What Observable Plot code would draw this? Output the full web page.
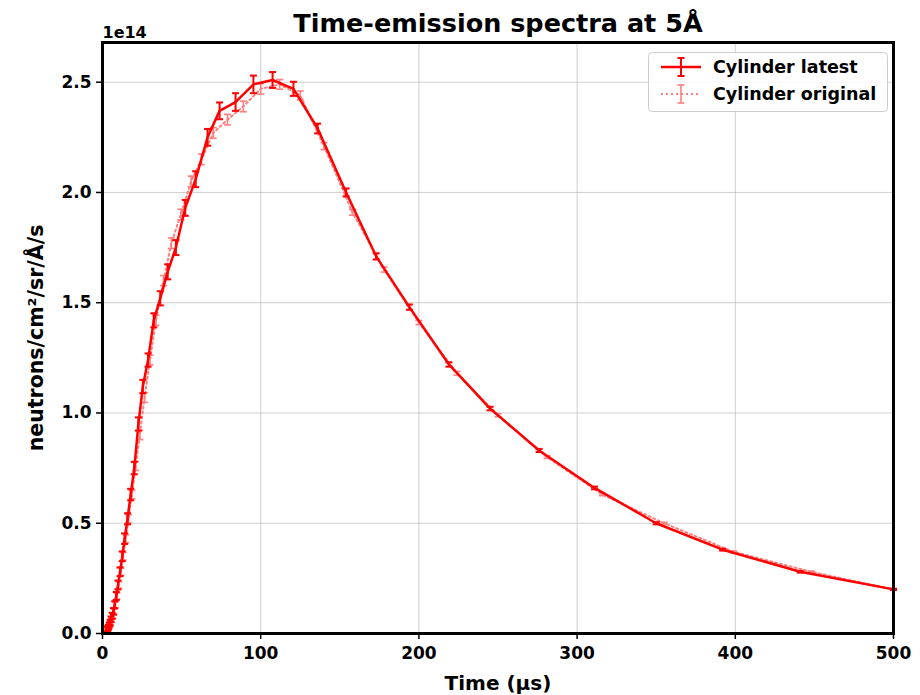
<!DOCTYPE html>
<html><head><meta charset="utf-8">
<script src="https://cdn.jsdelivr.net/npm/d3@7"></script>
<script src="https://cdn.jsdelivr.net/npm/@observablehq/plot@0.6"></script>
<style>
body{margin:0;background:#fff;font-family:"DejaVu Sans",sans-serif;}
#wrap{position:relative;width:920px;height:695px;}
#legend{position:absolute;left:0;top:0;pointer-events:none;}
</style></head><body><div id="wrap"></div>
<script>
// ---- data (values in units of 1e14) ----
const latestTime  = [3.0,3.4,3.8,4.3,4.8,5.4,6.1,6.9,7.7,8.7,9.8,11.1,12.5,14.0,15.8,17.8,20.1,22.7,25.5,28.8,32.4,36.5,41.2,46.4,52.3,58.9,66.4,74.0,84.1,95.4,107.5,120.7,136,154,173,194,219,245,276,311,350,392,441,500];
const latestValue = [0.02,0.025,0.03,0.04,0.05,0.065,0.08,0.10,0.13,0.17,0.22,0.28,0.35,0.43,0.52,0.63,0.75,0.95,1.12,1.24,1.42,1.52,1.64,1.75,1.93,2.06,2.25,2.37,2.41,2.49,2.51,2.47,2.29,2.00,1.71,1.48,1.22,1.02,0.83,0.66,0.50,0.38,0.28,0.20];
const latestErr   = [0.01,0.01,0.01,0.01,0.012,0.012,0.014,0.015,0.016,0.018,0.02,0.02,0.022,0.024,0.025,0.026,0.028,0.03,0.03,0.03,0.032,0.032,0.034,0.034,0.036,0.036,0.038,0.038,0.04,0.04,0.036,0.032,0.022,0.018,0.014,0.012,0.01,0.008,0.007,0.006,0.005,0.004,0.004,0.003];
const originalTime  = [3.1,3.5,4.0,4.5,5.0,5.7,6.4,7.2,8.1,9.1,10.3,11.6,13.0,14.7,16.5,18.6,21.0,23.6,26.6,30.0,33.8,38.6,43.5,49.5,56,62.5,70,79,89,100,112,125,140,158,178,200,224,250,281,316,355,399,448,500];
const originalValue = [0.015,0.02,0.03,0.035,0.045,0.06,0.08,0.10,0.13,0.17,0.22,0.28,0.35,0.43,0.52,0.63,0.76,0.90,1.07,1.24,1.42,1.60,1.77,1.90,2.05,2.15,2.27,2.33,2.39,2.47,2.49,2.44,2.21,1.91,1.65,1.41,1.18,0.99,0.80,0.63,0.50,0.37,0.28,0.20];
const originalErr   = [0.008,0.008,0.008,0.009,0.01,0.01,0.011,0.012,0.013,0.014,0.015,0.016,0.017,0.018,0.019,0.02,0.02,0.021,0.022,0.022,0.023,0.023,0.024,0.024,0.024,0.024,0.024,0.024,0.024,0.024,0.022,0.02,0.016,0.013,0.011,0.009,0.008,0.007,0.006,0.005,0.004,0.004,0.003,0.003];
const xTicks = [0,100,200,300,400,500];
const yTicks = [0,0.5,1.0,1.5,2.0,2.5];
const seriesNames = ["Cylinder latest","Cylinder original"];
const titleText = "Time-emission spectra at 5Å";
const xLabel = "Time (µs)";
const yLabel = "neutrons/cm²/sr/Å/s";
const scaleLabel = "1e14";

// ---- build tables ----
const latest = latestTime.map((t,i)=>({t, v: latestValue[i], e: latestErr[i]}));
const original = originalTime.map((t,i)=>({t, v: originalValue[i], e: originalErr[i]}));

const RED = "#ff0000", PINK = "#ff7f7f";
const cap = {draw(ctx){ ctx.moveTo(-3.5,0); ctx.lineTo(3.5,0); }};

const chart = Plot.plot({
  width: 920, height: 695,
  marginLeft: 102, marginRight: 27, marginTop: 42, marginBottom: 62,
  style: {fontFamily: "'DejaVu Sans', sans-serif", fontSize: "17px", fontWeight: "bold", color: "black", background: "white"},
  x: {domain: [0, 500]},
  y: {domain: [0, 2.68]},
  marks: [
    Plot.gridX(xTicks, {stroke: "#b0b0b0", strokeOpacity: 0.6, strokeWidth: 1}),
    Plot.gridY(yTicks, {stroke: "#b0b0b0", strokeOpacity: 0.6, strokeWidth: 1}),
    // original (pink dotted)
    Plot.line(original, {x: "t", y: "v", stroke: PINK, strokeWidth: 2, strokeDasharray: "2,3"}),
    Plot.ruleX(original, {x: "t", y1: d => d.v - d.e, y2: d => d.v + d.e, stroke: PINK, strokeWidth: 1.6}),
    Plot.dot(original, {x: "t", y: d => d.v + d.e, symbol: cap, stroke: PINK, fill: "none", strokeWidth: 1.6}),
    Plot.dot(original, {x: "t", y: d => d.v - d.e, symbol: cap, stroke: PINK, fill: "none", strokeWidth: 1.6}),
    // latest (solid red)
    Plot.line(latest, {x: "t", y: "v", stroke: RED, strokeWidth: 2.5}),
    Plot.ruleX(latest, {x: "t", y1: d => d.v - d.e, y2: d => d.v + d.e, stroke: RED, strokeWidth: 2}),
    Plot.dot(latest, {x: "t", y: d => d.v + d.e, symbol: cap, stroke: RED, fill: "none", strokeWidth: 2}),
    Plot.dot(latest, {x: "t", y: d => d.v - d.e, symbol: cap, stroke: RED, fill: "none", strokeWidth: 2}),
    Plot.frame({stroke: "black", strokeWidth: 3}),
    Plot.axisX(xTicks, {tickSize: 6, tickPadding: 7, strokeWidth: 1.5, label: null, fontSize: 17, fontWeight: "bold"}),
    Plot.axisY(yTicks, {tickSize: 6, tickPadding: 5, strokeWidth: 1.5, label: null, tickFormat: d3.format(".1f"), fontSize: 17, fontWeight: "bold"}),
    Plot.text([titleText], {frameAnchor: "top", lineAnchor: "middle", dy: -19, fontSize: 25.5, fontWeight: "bold"}),
    Plot.text([scaleLabel], {frameAnchor: "top-left", textAnchor: "start", lineAnchor: "middle", dy: -10, fontSize: 16, fontWeight: "bold"}),
    Plot.text([xLabel], {frameAnchor: "bottom", lineAnchor: "middle", dy: 50, fontSize: 20, fontWeight: "bold"}),
    Plot.text([yLabel], {frameAnchor: "left", textAnchor: "middle", lineAnchor: "middle", rotate: -90, dx: -66, fontSize: 20.5, fontWeight: "bold"})
  ]
});
const wrap = document.getElementById("wrap");
wrap.appendChild(chart);

// ---- legend overlay ----
const ns = "http://www.w3.org/2000/svg";
const lg = document.createElementNS(ns, "svg");
lg.setAttribute("id", "legend");
lg.setAttribute("width", 920); lg.setAttribute("height", 695);
const box = document.createElementNS(ns, "rect");
Object.entries({x: 648.5, y: 52.5, width: 239, height: 59, rx: 4, fill: "white", "fill-opacity": 0.8, stroke: "#cccccc", "stroke-width": 1}).forEach(([k,v])=>box.setAttribute(k,v));
lg.appendChild(box);
const styles = [
  {color: RED, dash: null, w: 2.5, ew: 2},
  {color: PINK, dash: "2,3", w: 2, ew: 1.6}
];
seriesNames.forEach((name, i) => {
  const cy = 67 + i * 27, s = styles[i];
  const add = (tag, attrs) => { const el = document.createElementNS(ns, tag); Object.entries(attrs).forEach(([k,v])=>el.setAttribute(k,v)); lg.appendChild(el); return el; };
  const ln = add("line", {x1: 661, x2: 701, y1: cy, y2: cy, stroke: s.color, "stroke-width": s.w});
  if (s.dash) ln.setAttribute("stroke-dasharray", s.dash);
  add("line", {x1: 681, x2: 681, y1: cy - 9, y2: cy + 9, stroke: s.color, "stroke-width": s.ew});
  add("line", {x1: 677.5, x2: 684.5, y1: cy - 9, y2: cy - 9, stroke: s.color, "stroke-width": s.ew});
  add("line", {x1: 677.5, x2: 684.5, y1: cy + 9, y2: cy + 9, stroke: s.color, "stroke-width": s.ew});
  const tx = add("text", {x: 713, y: cy, "dominant-baseline": "central", "font-family": "'DejaVu Sans', sans-serif", "font-size": 17.5, "font-weight": "bold", fill: "black"});
  tx.textContent = name;
});
wrap.appendChild(lg);
</script>
</body></html>
